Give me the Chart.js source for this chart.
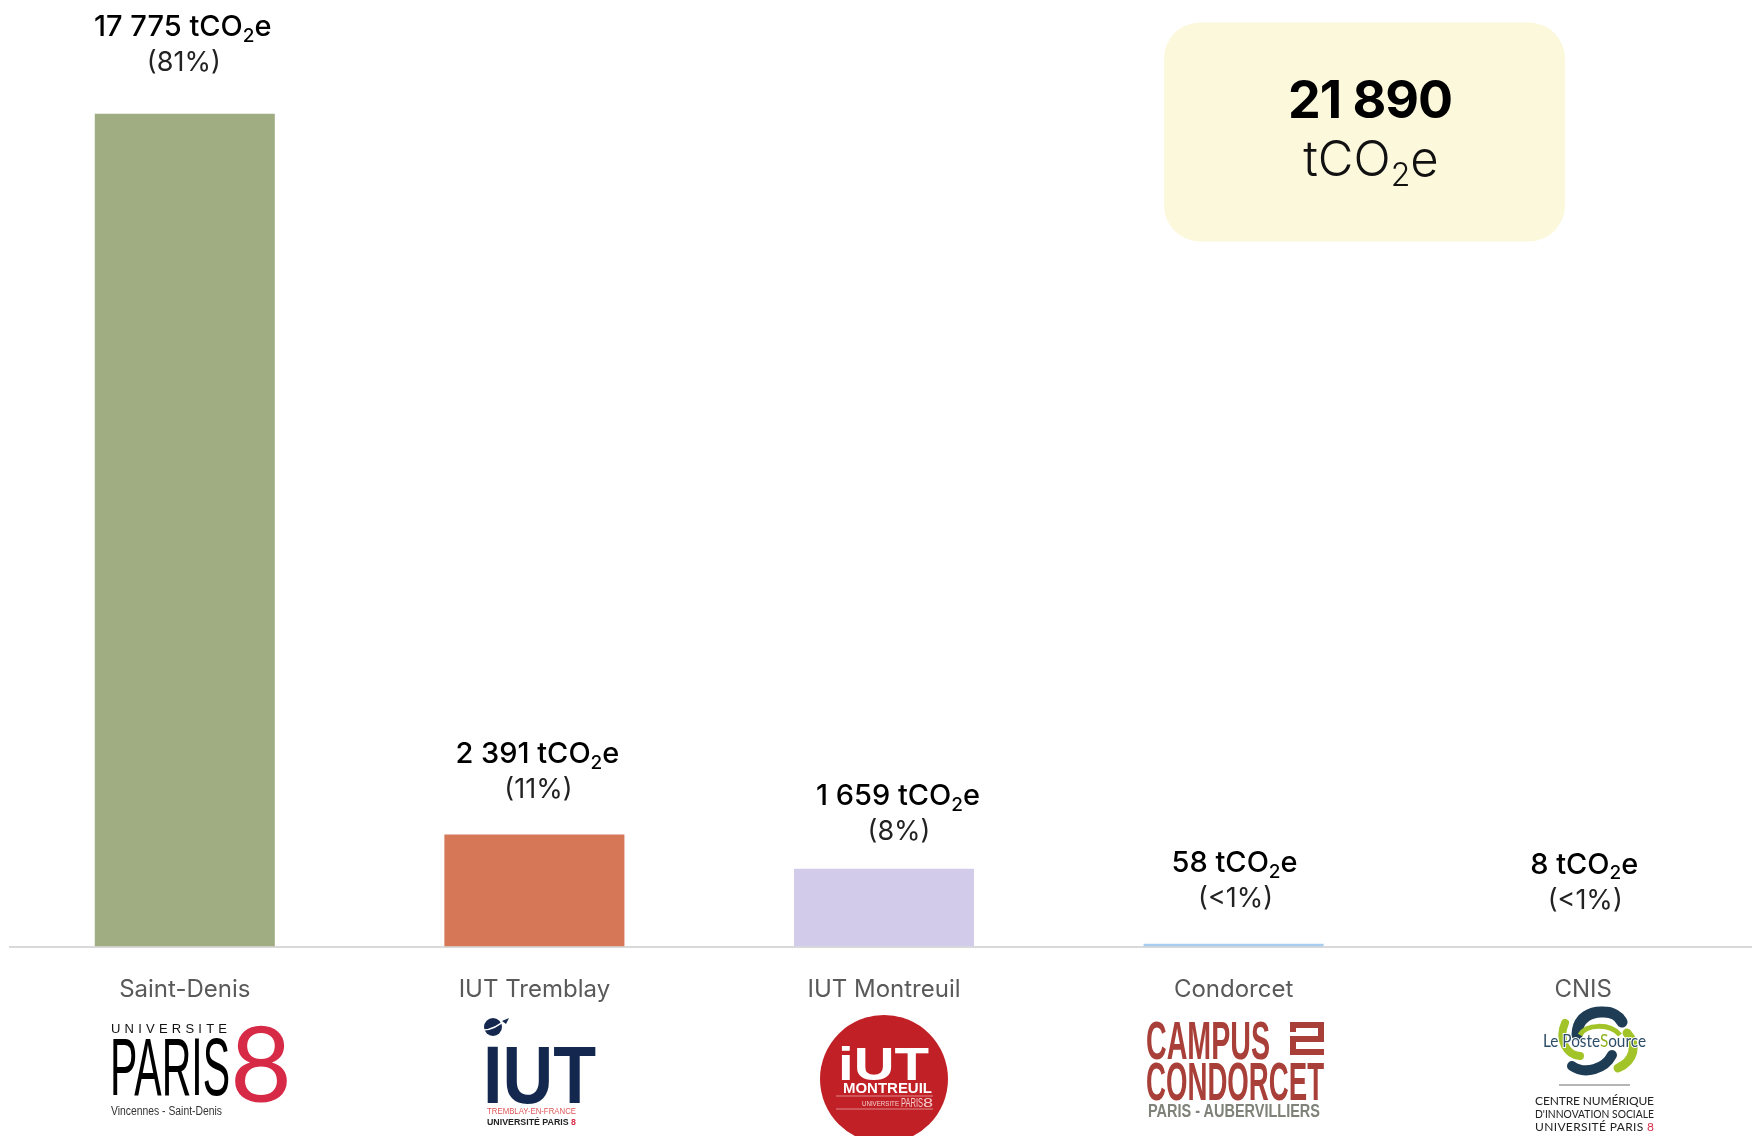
<!DOCTYPE html>
<html lang="fr">
<head>
<meta charset="utf-8">
<title>Émissions par site</title>
<style>
html,body{margin:0;padding:0;background:#fff;width:1752px;height:1136px;overflow:hidden}
#wrap{position:relative;width:1752px;height:1136px;overflow:hidden}
canvas{position:absolute;left:0;top:0}
svg{position:absolute;left:0;top:0;pointer-events:none}
svg text{font-family:"Liberation Sans",sans-serif}
</style>
<script src="https://cdn.jsdelivr.net/npm/chart.js@4/dist/chart.umd.min.js"></script>
</head>
<body>
<div id="wrap">
<canvas id="c" width="1758" height="1136"></canvas>
<svg width="1752" height="1136" viewBox="0 0 1752 1136" xmlns="http://www.w3.org/2000/svg">
  <!-- Université Paris 8 -->
  <text x="111" y="1033" font-size="13" fill="#111" textLength="116">UNIVERSITE</text>
  <text x="110" y="1095" font-size="82" fill="#000" textLength="120" lengthAdjust="spacingAndGlyphs">PARIS</text>
  <text x="230" y="1102" font-size="104" fill="#d62a47" style="font-family:Lato;font-weight:400" textLength="62" lengthAdjust="spacingAndGlyphs">8</text>
  <text x="111" y="1115" font-size="12" fill="#333" textLength="111" lengthAdjust="spacingAndGlyphs">Vincennes - Saint-Denis</text>
  <!-- IUT Tremblay -->
  <circle cx="493" cy="1027" r="9" fill="#14284f"/>
  <path d="M483 1030 C491 1030 500 1025 507 1018" fill="none" stroke="#fff" stroke-width="1.6"/>
  <path d="M502 1021 L509 1018 L506 1024 Z" fill="#14284f"/>
  <text x="483" y="1103" font-size="82" font-weight="bold" fill="#14284f" textLength="113" lengthAdjust="spacingAndGlyphs">IUT</text>
  <text x="487" y="1114" font-size="9.5" fill="#e0575a" textLength="89" lengthAdjust="spacingAndGlyphs">TREMBLAY-EN-FRANCE</text>
  <text x="487" y="1125" font-size="9.5" font-weight="bold" fill="#222" textLength="89" lengthAdjust="spacingAndGlyphs">UNIVERSITÉ PARIS <tspan fill="#d62a47">8</tspan></text>
  <!-- IUT Montreuil -->
  <circle cx="884" cy="1079" r="64" fill="#c12026"/>
  <text x="838" y="1080" font-size="46" font-weight="bold" fill="#fff" textLength="91" lengthAdjust="spacingAndGlyphs">iUT</text>
  <text x="843" y="1093" font-size="15" font-weight="bold" fill="#fff" textLength="89" lengthAdjust="spacingAndGlyphs">MONTREUIL</text>
  <line x1="836" y1="1096" x2="933" y2="1096" stroke="#e08a8a" stroke-width="1"/>
  <line x1="836" y1="1109" x2="933" y2="1109" stroke="#e08a8a" stroke-width="1"/>
  <text x="862" y="1106" font-size="6.5" fill="#f4cfcf" textLength="37" lengthAdjust="spacingAndGlyphs">UNIVERSITE</text>
  <text x="901" y="1107" font-size="13" fill="#f4cfcf" textLength="22" lengthAdjust="spacingAndGlyphs">PARIS</text>
  <text x="923" y="1107" font-size="13" fill="#f4cfcf" textLength="10" lengthAdjust="spacingAndGlyphs">8</text>
  <!-- Campus Condorcet -->
  <text x="1146" y="1059" font-size="54" font-weight="bold" fill="#a83f38" textLength="124" lengthAdjust="spacingAndGlyphs">CAMPUS</text>
  <text x="1146" y="1100" font-size="54" font-weight="bold" fill="#a83f38" textLength="178" lengthAdjust="spacingAndGlyphs">CONDORCET</text>
  <text x="1148" y="1117" font-size="18" font-weight="bold" fill="#7f8278" textLength="172" lengthAdjust="spacingAndGlyphs">PARIS - AUBERVILLIERS</text>
  <path d="M1293 1032 V1025 H1321 V1039 H1293 V1052 H1324 M1290 1025 H1293" fill="none" stroke="#a83f38" stroke-width="6"/>
  <!-- Le Poste Source -->
  <g transform="translate(0,3)">
    <path d="M1577 1032 C1577 1014 1592 1008 1604 1009 C1612 1009 1619 1013 1622 1019" fill="none" stroke="#1f3c55" stroke-width="11" stroke-linecap="round"/>
    <path d="M1572 1063 C1585 1072 1605 1066 1612 1052" fill="none" stroke="#1f3c55" stroke-width="10" stroke-linecap="round"/>
    <path d="M1565 1020 C1558 1036 1566 1052 1580 1053" fill="none" stroke="#a3c428" stroke-width="8" stroke-linecap="round"/>
    <path d="M1627 1030 C1638 1042 1634 1058 1618 1065" fill="none" stroke="#a3c428" stroke-width="9" stroke-linecap="round"/>
    <path d="M1580 1032 C1586 1021 1610 1020 1620 1032" fill="none" stroke="#a3c428" stroke-width="5"/>
  </g>
  <text x="1543" y="1047" font-size="17" fill="#2d4c66" stroke="#fff" stroke-width="2" paint-order="stroke" style="font-family:Lato" textLength="103" lengthAdjust="spacingAndGlyphs">Le Poste<tspan fill="#8fb21e">S</tspan>ource</text>
  <line x1="1559" y1="1085" x2="1630" y2="1085" stroke="#b5b5b5" stroke-width="2"/>
  <text x="1535" y="1105" font-size="12" fill="#222" style="font-family:Lato" textLength="119">CENTRE NUMÉRIQUE</text>
  <text x="1535" y="1118" font-size="12" fill="#222" style="font-family:Lato" textLength="119" lengthAdjust="spacingAndGlyphs">D'INNOVATION SOCIALE</text>
  <text x="1535" y="1131" font-size="12" fill="#222" style="font-family:Lato" textLength="119">UNIVERSITÉ PARIS <tspan fill="#d62a47">8</tspan></text>
</svg>
</div>
<script>
const categories = ["Saint-Denis", "IUT Tremblay", "IUT Montreuil", "Condorcet", "CNIS"];
const emissions = [17775, 2391, 1659, 58, 8];
const valueLabels = ["17 775", "2 391", "1 659", "58", "8"];
const shareLabels = ["(81%)", "(11%)", "(8%)", "(<1%)", "(<1%)"];
const barColors = ["#a0ad82", "#d67757", "#d3cbea", "#a8cdf0", "#d9d9d9"];
const totalLabel = "21 890";
const unitBase = "tCO";
const unitSub = "2";
const unitEnd = "e";

const labelShiftX = [-2, 3, 14, 1, 1];
const labelRiseY = [77.5, 71.5, 63.5, 71.5, 72.5];
const FONT = "Inter";

function drawUnitText(ctx, cx, y, lead, size, weight) {
  const main = weight + " " + size + "px " + FONT;
  const sub = weight + " " + Math.round(size * 0.66) + "px " + FONT;
  ctx.font = main;
  const w1 = ctx.measureText(lead + unitBase).width;
  const w3 = ctx.measureText(unitEnd).width;
  ctx.font = sub;
  const w2 = ctx.measureText(unitSub).width;
  let x = cx - (w1 + w2 + w3) / 2;
  ctx.textAlign = "left";
  ctx.textBaseline = "alphabetic";
  ctx.font = main;
  ctx.fillText(lead + unitBase, x, y);
  x += w1;
  ctx.font = sub;
  ctx.fillText(unitSub, x, y + size * 0.2);
  x += w2;
  ctx.font = main;
  ctx.fillText(unitEnd, x, y);
}

const annotate = {
  id: "annotate",
  afterDatasetsDraw(chart) {
    const ctx = chart.ctx;
    const bars = chart.getDatasetMeta(0).data;
    ctx.save();
    bars.forEach((bar, i) => {
      const cx = bar.x + labelShiftX[i];
      const y = bar.y - labelRiseY[i];
      ctx.fillStyle = "#000";
      drawUnitText(ctx, cx, y, valueLabels[i] + " ", 29, 500);
      ctx.fillStyle = "#222";
      ctx.font = "400 27px " + FONT;
      ctx.textAlign = "center";
      ctx.fillText(shareLabels[i], cx + 1, y + 35);
    });
    ctx.fillStyle = "#fcf8dc";
    ctx.beginPath();
    ctx.roundRect(1164, 22.5, 401, 219, 36);
    ctx.fill();
    ctx.fillStyle = "#000";
    ctx.font = "700 52px " + FONT;
    ctx.textAlign = "center";
    ctx.textBaseline = "alphabetic";
    ctx.letterSpacing = "-1px";
    ctx.fillText(totalLabel, 1370, 118);
    ctx.letterSpacing = "0px";
    ctx.fillStyle = "#111";
    drawUnitText(ctx, 1371, 176, "", 49, 300);
    ctx.restore();
  }
};

new Chart(document.getElementById("c"), {
  type: "bar",
  data: {
    labels: categories,
    datasets: [{
      data: emissions,
      backgroundColor: barColors,
      borderWidth: 0,
      categoryPercentage: 1,
      barPercentage: 0.515
    }]
  },
  options: {
    responsive: false,
    animation: false,
    devicePixelRatio: 1,
    layout: { padding: { top: 9.5, left: 10, right: 0, bottom: 0 } },
    plugins: { legend: { display: false }, title: { display: false }, tooltip: { enabled: false } },
    scales: {
      x: {
        afterFit(s) { s.height = 189.5; },
        border: { display: true, color: "#d9d9d9", width: 2 },
        grid: { display: false, drawTicks: false },
        ticks: {
          autoSkip: false, maxRotation: 0, padding: 29,
          color: "#595959",
          font: { family: FONT, size: 24, weight: "400" }
        }
      },
      y: { display: false, min: 0, max: 20000 }
    }
  },
  plugins: [annotate]
});
</script>
</body>
</html>
